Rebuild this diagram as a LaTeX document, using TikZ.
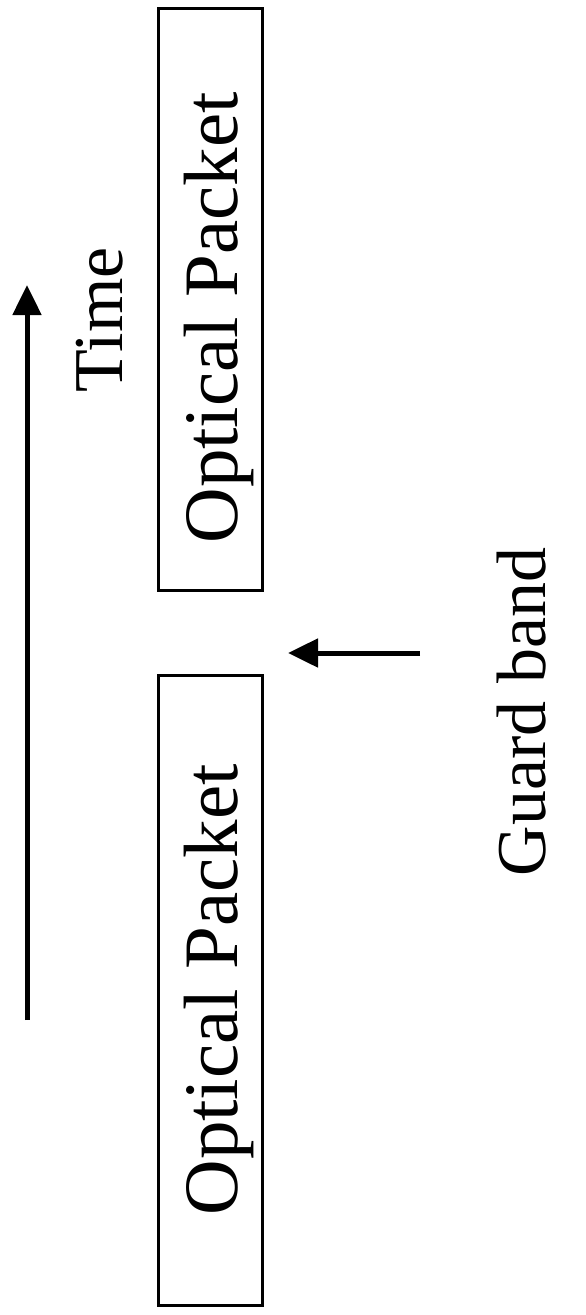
\documentclass[tikz,border=0pt]{standalone}
\usepackage{fontspec}
\setmainfont{Liberation Serif}
\usetikzlibrary{arrows.meta}
\begin{document}
\begin{tikzpicture}[x=1pt,y=-1pt,
  packet/.style={draw, line width=3pt, inner sep=0pt},
  ptext/.style={rotate=90, inner sep=0pt, font=\fontsize{77}{77}\selectfont},
  label/.style={rotate=90, inner sep=0pt, font=\fontsize{70}{70}\selectfont},
  arr/.style={line width=5pt, -{Triangle[length=30pt,width=28pt]}}]
\useasboundingbox (0,0) rectangle (586,1315);
\node[packet, minimum width=104pt, minimum height=582pt] (p1) at (210,299) {};
\node[packet, minimum width=104pt, minimum height=630pt] (p2) at (210,990) {};
\node[ptext] (p1t) at (219,318) {Optical Packet};
\node[ptext] (p2t) at (219,990) {Optical Packet};
\coordinate (t0) at (27,1020);
\coordinate (t1) at (27,285);
\draw[arr] (t0) -- (t1);
\node[label] (time) at (100,320) {Time};
\coordinate (g0) at (420,653);
\coordinate (g1) at (288,653);
\draw[arr] (g0) -- (g1);
\node[label] (guard) at (522,712) {Guard band};
\end{tikzpicture}
\end{document}
